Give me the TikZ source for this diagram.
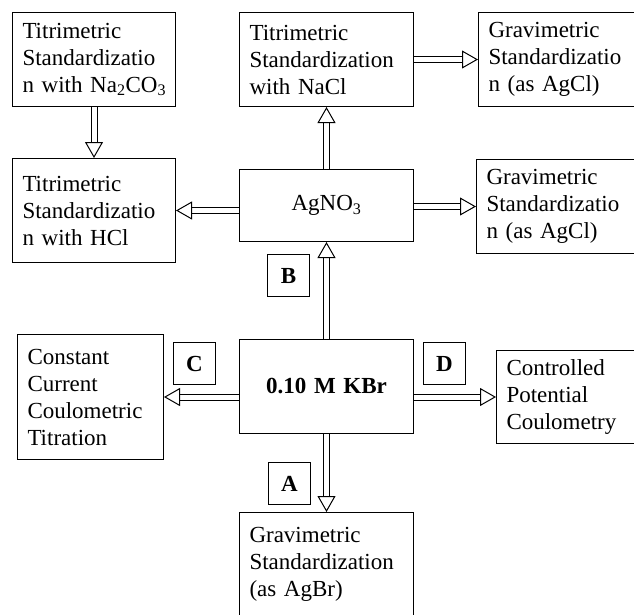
\documentclass[tikz,border=0pt]{standalone}
\usepackage{fontspec}
\setmainfont{Liberation Serif}
\usetikzlibrary{arrows.meta}
\begin{document}
\begin{tikzpicture}[x=1pt, y=-1pt,
  box/.style={draw, line width=1pt, anchor=north west, align=left, inner xsep=10pt, inner ysep=0pt, font=\fontsize{23}{27}\selectfont},
  lab/.style={draw, line width=1pt, anchor=north west, minimum size=42pt, inner sep=0pt, font=\fontsize{23}{27}\selectfont\bfseries},
  hollow/.style={line width=1pt, double=white, double distance=5pt, -{Triangle[length=16pt, width=18pt, fill=white, line width=1pt]}}]
\useasboundingbox (0,0) rectangle (634,614);
\clip (0,0) rectangle (634,614);
% top row
\node[box, minimum width=163pt, minimum height=94pt, text width=143pt] (naco) at (12,12) {Titrimetric\\Standardizatio\\\mbox{n with Na\textsubscript{2}CO\textsubscript{3}}};
\node[box, minimum width=174pt, minimum height=94pt, text width=154pt] (nacl) at (239,12) {Titrimetric\\Standardization\\with NaCl};
\node[box, minimum width=163pt, minimum height=94pt, text width=143pt] (grava) at (478,12) {Gravimetric\\Standardizatio\\n (as AgCl)};
% second row
\node[box, minimum width=163pt, minimum height=104pt, text width=143pt] (hcl) at (12,158) {Titrimetric\\Standardizatio\\n with HCl};
\node[box, align=center, minimum width=174pt, minimum height=72pt, text width=154pt] (agno) at (239,169) {AgNO\textsubscript{3}};
\node[box, minimum width=163pt, minimum height=94pt, text width=143pt] (gravb) at (476,159) {Gravimetric\\Standardizatio\\n (as AgCl)};
% middle row
\node[box, minimum width=146pt, minimum height=125pt, text width=126pt] (cons) at (17,334) {Constant\\Current\\Coulometric\\Titration};
\node[box, align=center, font=\fontsize{23}{27}\selectfont\bfseries, minimum width=174pt, minimum height=94pt, text width=154pt] (kbr) at (239,339) {0.10 M KBr};
\node[box, minimum width=164pt, minimum height=93pt, text width=144pt] (ctrl) at (496,350) {Controlled\\Potential\\Coulometry};
% bottom
\node[box, minimum width=174pt, minimum height=104pt, text width=154pt] (agbr) at (239,512) {Gravimetric\\Standardization\\(as AgBr)};
% letters
\node[lab] (labB) at (267,254) {B};
\node[lab] (labC) at (173,342) {C};
\node[lab] (labD) at (423,342) {D};
\node[lab] (labA) at (268,462) {A};
% arrows
\draw[hollow] (naco) -- (hcl);
\draw[hollow] (nacl) -- (grava);
\draw[hollow] (agno) -- (nacl);
\draw[hollow] (agno.west |- hcl.east) -- (hcl.east);
\draw[hollow] (agno.east |- gravb.west) -- (gravb.west);
\draw[hollow] (kbr) -- (agno);
\draw[hollow] (kbr.west |- cons.east) -- (cons.east);
\draw[hollow] (kbr.east |- ctrl.west) -- (ctrl.west);
\draw[hollow] (kbr) -- (agbr);
\end{tikzpicture}
\end{document}
